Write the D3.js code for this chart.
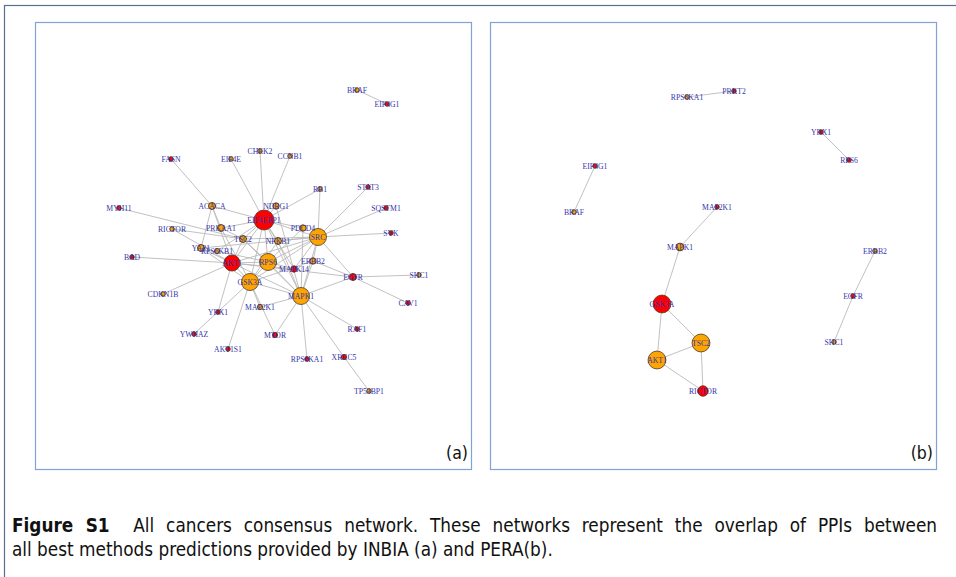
<!DOCTYPE html>
<html>
<head>
<meta charset="utf-8">
<script src="https://cdn.jsdelivr.net/npm/d3@7"></script>
<style>
  body { margin: 0; background: #fff; }
  svg { display: block; }
  .label { font-family: "Liberation Serif", "Times New Roman", serif; font-size: 7.7px; fill: #3434aa; }
  .caption { font-family: "DejaVu Sans Condensed", "DejaVu Sans", sans-serif; font-stretch: condensed; font-size: 18.8px; fill: #111; }
</style>
</head>
<body>
<svg width="956" height="577"></svg>
<script>
// panel (a): INBIA consensus network, node layout in panel units
var nodesA = [
  ["BRAF", 322, 68, "o", 1], ["EIF4G1", 352, 82, "r", 1],
  ["FASN", 136, 137, "r", 1], ["EIF4E", 196, 137, "o", 1],
  ["CHEK2", 225, 129, "o", 1], ["CCNB1", 255, 134, "o", 1],
  ["RB1", 285, 167, "o", 1], ["STAT3", 333, 165, "r", 1],
  ["SQSTM1", 351, 186, "r", 1], ["SYK", 356, 211, "r", 1],
  ["MYH11", 84, 186, "r", 1], ["ACACA", 177, 184, "o", 2.4],
  ["NDRG1", 241, 184, "o", 2], ["EIF4EBP1", 229, 198, "r", 20],
  ["RICTOR", 137, 207, "o", 1], ["PRKAA1", 186, 206, "o", 2.4],
  ["PDCD4", 268, 206, "o", 2], ["SRC", 283, 215, "o", 14.5],
  ["TSC2", 208, 217, "o", 2.4], ["NFKB1", 243, 219, "o", 2.4],
  ["YAP1", 166, 226, "o", 2.4], ["RPS6KB1", 182, 229, "o", 1.3],
  ["BAD", 97, 235, "r", 1], ["AKT1", 197, 241, "r", 13],
  ["RPS6", 233, 240, "o", 14.5], ["ERBB2", 278, 239, "o", 2],
  ["MAPK14", 259, 247, "r", 2], ["EGFR", 318, 255, "r", 2.4],
  ["SHC1", 384, 253, "o", 1], ["GSK3A", 215, 260, "o", 14.5],
  ["MAPK1", 266, 274, "o", 14.5], ["CDKN1B", 128, 272, "o", 1],
  ["CAV1", 373, 281, "r", 1], ["MAP2K1", 225, 285, "o", 1.3],
  ["YBX1", 183, 290, "r", 1], ["YWHAZ", 159, 312, "r", 1],
  ["MTOR", 240, 313, "r", 1.3], ["RAF1", 322, 307, "r", 1],
  ["AKT1S1", 193, 327, "r", 1], ["RPS6KA1", 272, 337, "r", 1],
  ["XRCC5", 309, 335, "r", 1.3], ["TP53BP1", 334, 369, "o", 1]
];
var edgesA = [
  ["BRAF", "EIF4G1"], ["FASN", "ACACA"], ["EIF4E", "EIF4EBP1"], ["CHEK2", "EIF4EBP1"],
  ["CCNB1", "EIF4EBP1"], ["RB1", "EIF4EBP1"], ["RB1", "SRC"], ["STAT3", "SRC"],
  ["SQSTM1", "SRC"], ["SYK", "SRC"], ["MYH11", "TSC2"], ["ACACA", "EIF4EBP1"],
  ["ACACA", "YAP1"], ["ACACA", "PRKAA1"], ["ACACA", "AKT1"], ["RICTOR", "TSC2"],
  ["RICTOR", "AKT1"], ["PRKAA1", "EIF4EBP1"], ["PRKAA1", "TSC2"], ["PRKAA1", "GSK3A"],
  ["TSC2", "EIF4EBP1"], ["TSC2", "AKT1"], ["TSC2", "SRC"], ["TSC2", "RPS6"],
  ["TSC2", "MAPK1"], ["NDRG1", "EIF4EBP1"], ["NDRG1", "MAPK1"], ["NFKB1", "EIF4EBP1"],
  ["NFKB1", "SRC"], ["NFKB1", "GSK3A"], ["NFKB1", "MAPK1"], ["PDCD4", "EIF4EBP1"],
  ["PDCD4", "MAPK1"], ["PDCD4", "RPS6"], ["YAP1", "SRC"], ["YAP1", "AKT1"],
  ["YAP1", "GSK3A"], ["RPS6KB1", "EIF4EBP1"], ["RPS6KB1", "RPS6"], ["BAD", "AKT1"],
  ["AKT1", "EIF4EBP1"], ["AKT1", "RPS6"], ["AKT1", "GSK3A"], ["AKT1", "SRC"],
  ["AKT1", "MAPK14"], ["AKT1", "MAPK1"], ["RPS6", "EIF4EBP1"], ["RPS6", "SRC"],
  ["RPS6", "GSK3A"], ["RPS6", "MAPK1"], ["RPS6", "MAPK14"], ["ERBB2", "SRC"],
  ["ERBB2", "EGFR"], ["ERBB2", "GSK3A"], ["ERBB2", "MAPK1"], ["MAPK14", "EIF4EBP1"],
  ["MAPK14", "SRC"], ["EGFR", "SRC"], ["EGFR", "SHC1"], ["EGFR", "CAV1"],
  ["EGFR", "MAPK1"], ["EGFR", "AKT1"], ["GSK3A", "EIF4EBP1"], ["GSK3A", "SRC"],
  ["GSK3A", "MAPK1"], ["MAPK1", "SRC"], ["MAPK1", "EIF4EBP1"], ["EIF4EBP1", "SRC"],
  ["CDKN1B", "AKT1"], ["MAP2K1", "MAPK1"], ["MAP2K1", "GSK3A"], ["YBX1", "AKT1"],
  ["YWHAZ", "GSK3A"], ["MTOR", "GSK3A"], ["MTOR", "MAPK1"], ["RAF1", "MAPK1"],
  ["AKT1S1", "GSK3A"], ["RPS6KA1", "MAPK1"], ["XRCC5", "MAPK1"], ["XRCC5", "TP53BP1"]
];

// panel (b): PERA consensus network
var nodesB = [
  ["RPS6KA1", 197, 75, "o", 1], ["PRKT2", 244, 69, "r", 1],
  ["YBX1", 331, 110, "r", 1], ["RPS6", 359, 138, "r", 1],
  ["EIF4G1", 105, 144, "r", 1], ["BRAF", 84, 190, "o", 1],
  ["MAP2K1", 227, 185, "r", 1], ["MAPK1", 190, 225, "o", 3],
  ["ERBB2", 385, 229, "o", 1], ["EGFR", 363, 274, "r", 1],
  ["GSK3A", 172, 282, "r", 16], ["SHC1", 344, 320, "o", 1],
  ["TSC2", 211, 321, "o", 16], ["AKT1", 167, 338, "o", 16],
  ["RICTOR", 213, 369, "r", 5.5]
];
var edgesB = [
  ["RPS6KA1", "PRKT2"], ["YBX1", "RPS6"], ["EIF4G1", "BRAF"], ["MAP2K1", "MAPK1"],
  ["MAPK1", "GSK3A"], ["GSK3A", "TSC2"], ["GSK3A", "AKT1"], ["AKT1", "TSC2"],
  ["TSC2", "RICTOR"], ["AKT1", "RICTOR"], ["ERBB2", "EGFR"], ["EGFR", "SHC1"]
];

var panelLabels = ["(a)", "(b)"];
var captionBold = "Figure S1";
var captionLine1 = "All cancers consensus network. These networks represent the overlap of PPIs between";
var captionLine2 = "all best methods predictions provided by INBIA (a) and PERA(b).";

var svg = d3.select("svg");

// outer frame
svg.append("rect")
    .attr("x", 4.5).attr("y", 5.5)
    .attr("width", 980).attr("height", 600)
    .attr("fill", "none")
    .attr("stroke", "#5b6f8c")
    .attr("stroke-width", 1.2);

var panels = [
  { x: 35, y: 22, w: 436, h: 447, nodes: nodesA, edges: edgesA, label: panelLabels[0] },
  { x: 490, y: 22, w: 446, h: 447, nodes: nodesB, edges: edgesB, label: panelLabels[1] }
];

var color = d3.scaleOrdinal().domain(["r", "o"]).range(["#ff0000", "#ffa500"]);
var radius = d3.scaleSqrt().domain([0, 20]).range([0, 10]);

panels.forEach(function(p) {
  var g = svg.append("g").attr("transform", "translate(" + p.x + "," + p.y + ")");

  g.append("rect")
      .attr("x", 0.5).attr("y", 0.5)
      .attr("width", p.w).attr("height", p.h)
      .attr("fill", "#fff")
      .attr("stroke", "#7fa3d6")
      .attr("stroke-width", 1.2);

  var x = d3.scaleLinear().domain([0, p.w]).range([0, p.w]);
  var y = d3.scaleLinear().domain([0, p.h]).range([0, p.h]);

  var byName = {};
  p.nodes.forEach(function(d) { byName[d[0]] = d; });

  g.append("g").selectAll("line")
    .data(p.edges)
    .enter().append("line")
      .attr("x1", function(d) { return x(byName[d[0]][1]); })
      .attr("y1", function(d) { return y(byName[d[0]][2]); })
      .attr("x2", function(d) { return x(byName[d[1]][1]); })
      .attr("y2", function(d) { return y(byName[d[1]][2]); })
      .attr("stroke", "#bababa")
      .attr("stroke-width", 0.9);

  g.append("g").selectAll("circle")
    .data(p.nodes)
    .enter().append("circle")
      .attr("cx", function(d) { return x(d[1]); })
      .attr("cy", function(d) { return y(d[2]); })
      .attr("r", function(d) { return radius(d[4]); })
      .attr("fill", function(d) { return color(d[3]); })
      .attr("stroke", "#4a3a2a")
      .attr("stroke-width", function(d) { return d[4] > 3 ? 0.8 : 1; });

  g.append("g").selectAll("text")
    .data(p.nodes)
    .enter().append("text")
      .attr("class", "label")
      .attr("x", function(d) { return x(d[1]); })
      .attr("y", function(d) { return y(d[2]) + 2.7; })
      .attr("text-anchor", "middle")
      .text(function(d) { return d[0]; });

  g.append("text")
      .attr("class", "caption")
      .attr("x", p.w - 3)
      .attr("y", 437)
      .attr("text-anchor", "end")
      .style("font-size", "17.5px")
      .text(p.label);
});

// caption, first line justified by widening the word gaps
var target = 925;
var c1 = svg.append("text").attr("class", "caption")
    .attr("x", 12).attr("y", 532);
c1.append("tspan").attr("font-weight", "bold").text(captionBold);
c1.append("tspan").text("\u00a0\u00a0" + captionLine1);
var natural = c1.node().getBBox().width;
c1.style("word-spacing", "1px");
var perPx = c1.node().getBBox().width - natural;   // growth per 1px of word-spacing
if (perPx > 0) c1.style("word-spacing", Math.max(0, (target - natural) / perPx) + "px");
else c1.style("word-spacing", null);

svg.append("text").attr("class", "caption")
    .attr("x", 12).attr("y", 556)
    .text(captionLine2);
</script>
</body>
</html>
